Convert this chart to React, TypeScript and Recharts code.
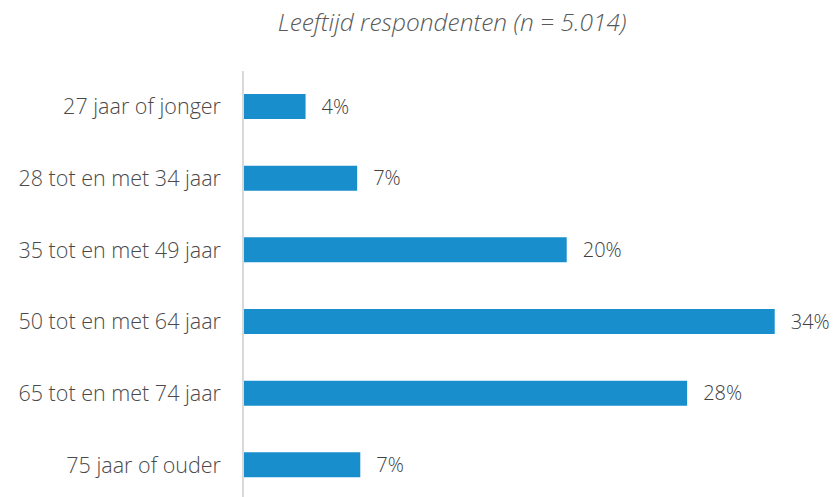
import { BarChart, Bar, XAxis, YAxis, LabelList } from "recharts";

const categories = [
  "27 jaar of jonger",
  "28 tot en met 34 jaar",
  "35 tot en met 49 jaar",
  "50 tot en met 64 jaar",
  "65 tot en met 74 jaar",
  "75 jaar of ouder",
];
const shares = [4.0, 7.3, 20.7, 34.0, 28.4, 7.5];
const displayLabels = ["4%", "7%", "20%", "34%", "28%", "7%"];

const data = categories.map((name, i) => ({ name, value: shares[i], label: displayLabels[i] }));

const FONT = "'Open Sans', 'Noto Sans', sans-serif";

export default function App() {
  return (
    <div style={{ position: "absolute", left: 0, top: 0, width: 836, height: 497, overflow: "hidden", background: "#fff" }}>
      <div
        style={{
          position: "absolute",
          top: 5,
          left: 0,
          width: 904,
          textAlign: "center",
          fontFamily: FONT,
          fontStyle: "italic",
          fontWeight: 300,
          fontSize: 24.5,
          color: "#595959",
        }}
      >
        Leeftijd respondenten (n = 5.014)
      </div>
      <BarChart
        width={836}
        height={505}
        data={data}
        layout="vertical"
        barSize={25}
        margin={{ top: 71, right: 30, bottom: 4, left: 0 }}
      >
        <XAxis type="number" domain={[0, 36]} hide />
        <YAxis
          type="category"
          dataKey="name"
          width={243}
          tickLine={false}
          tickSize={0}
          tickMargin={22}
          axisLine={{ stroke: "#d9d9d9", strokeWidth: 2 }}
          tick={{ fill: "#4a4a4a", fontSize: 21.5, fontWeight: 300, fontFamily: FONT }}
        />
        <Bar dataKey="value" fill="#188ecd" isAnimationActive={false}>
          <LabelList
            dataKey="label"
            position="right"
            offset={16}
            style={{ fill: "#404040", fontSize: 20, fontWeight: 300, fontFamily: FONT }}
          />
        </Bar>
      </BarChart>
    </div>
  );
}
